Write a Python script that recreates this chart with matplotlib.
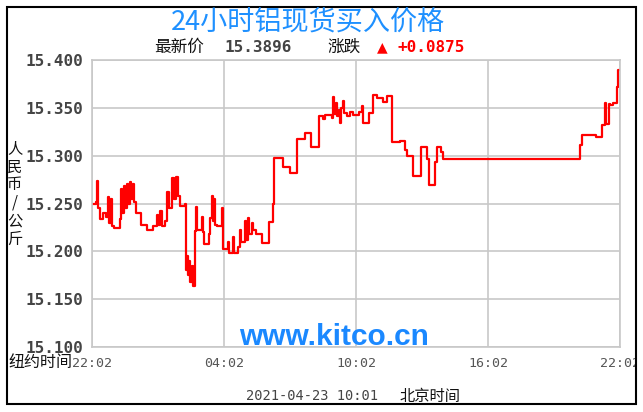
import matplotlib
matplotlib.use('Agg')
import matplotlib.pyplot as plt
from matplotlib.patches import Rectangle

# hours after 22:02 (New York time) and price, stepwise
hours = [0.00, 0.18, 0.23, 0.27, 0.36, 0.50, 0.64, 0.73, 0.77, 0.86, 0.91, 1.00,
         1.27, 1.32, 1.36, 1.45, 1.50, 1.59, 1.64, 1.73, 1.77, 1.86, 1.91, 2.00,
         2.23, 2.50, 2.77, 2.95, 3.00, 3.09, 3.18, 3.32, 3.41, 3.50, 3.64, 3.73,
         3.82, 3.91, 4.00, 4.23, 4.27, 4.32, 4.36, 4.41, 4.45, 4.55, 4.59, 4.68,
         4.73, 4.77, 5.00, 5.05, 5.09, 5.32, 5.36, 5.45, 5.50, 5.55, 5.59, 5.68,
         5.91, 5.95, 6.18, 6.23, 6.41, 6.45, 6.64, 6.73, 6.77, 6.95, 7.00, 7.09,
         7.14, 7.27, 7.32, 7.45, 7.73, 8.05, 8.23, 8.27, 8.68, 9.00, 9.32, 9.68,
         9.95, 10.32, 10.50, 10.59, 10.91, 10.95, 11.00, 11.09, 11.14, 11.23, 11.27,
         11.32, 11.41, 11.45, 11.59, 11.73, 11.86, 12.14, 12.27, 12.32, 12.59,
         12.77, 12.95, 13.23, 13.41, 13.64, 14.00, 14.23, 14.32, 14.59, 14.95,
         15.23, 15.32, 15.59, 15.68, 15.86, 15.95, 22.18, 22.27, 22.91, 23.18,
         23.32, 23.36, 23.50, 23.55, 23.68, 23.86, 23.91, 23.95]
prices = [15.249, 15.252, 15.273, 15.245, 15.234, 15.240, 15.236, 15.257, 15.230, 15.255, 15.226, 15.224,
          15.234, 15.265, 15.240, 15.268, 15.245, 15.270, 15.250, 15.272, 15.255, 15.270, 15.252, 15.240,
          15.228, 15.222, 15.226, 15.238, 15.228, 15.242, 15.226, 15.232, 15.262, 15.245, 15.277, 15.255,
          15.278, 15.258, 15.247, 15.250, 15.180, 15.195, 15.175, 15.190, 15.168, 15.185, 15.164, 15.221,
          15.246, 15.222, 15.236, 15.220, 15.208, 15.218, 15.235, 15.258, 15.232, 15.255, 15.228, 15.226,
          15.245, 15.202, 15.210, 15.198, 15.215, 15.198, 15.205, 15.222, 15.210, 15.232, 15.212, 15.235,
          15.218, 15.230, 15.222, 15.218, 15.209, 15.231, 15.250, 15.298, 15.288, 15.282, 15.317, 15.324,
          15.309, 15.341, 15.338, 15.343, 15.339, 15.361, 15.344, 15.355, 15.341, 15.348, 15.334,
          15.350, 15.357, 15.345, 15.341, 15.346, 15.343, 15.346, 15.352, 15.334, 15.345,
          15.363, 15.360, 15.356, 15.362, 15.314, 15.315, 15.306, 15.300, 15.279, 15.309,
          15.296, 15.269, 15.293, 15.309, 15.304, 15.296, 15.311, 15.322, 15.319, 15.332,
          15.355, 15.333, 15.354, 15.353, 15.355, 15.372, 15.3896, 15.3896]

x_ticks = [0, 6, 12, 18, 24]
x_labels = ['22:02', '04:02', '10:02', '16:02', '22:02']
y_ticks = [15.100, 15.150, 15.200, 15.250, 15.300, 15.350, 15.400]

W, H = 643, 412
cjk = ['Noto Sans CJK SC', 'DejaVu Sans']
mono = 'DejaVu Sans Mono'

fig = plt.figure(figsize=(W / 100, H / 100), dpi=100)
ax = fig.add_axes([92 / W, 1 - 347 / H, (620 - 92) / W, (347 - 60) / H])

ax.step(hours, prices, where='post', color='#ff0000', lw=1.6)

ax.set_xlim(0, 24)
ax.set_ylim(15.100, 15.400)
ax.set_xticks(x_ticks)
ax.set_xticklabels(x_labels, family=mono, fontsize=9.5, color='#555555')
ax.set_yticks(y_ticks)
ax.set_yticklabels([f'{v:.3f}' for v in y_ticks], family=mono, fontsize=11.5,
                   fontweight='bold', color='#444444')
ax.tick_params(length=0, pad=6)
ax.tick_params(axis='x', pad=7)
ax.grid(True, color='#c8c8c8', lw=1.2)
ax.set_axisbelow(True)
for s in ax.spines.values():
    s.set_color('#c8c8c8')
    s.set_linewidth(1.2)

# watermark, its bottom cut by the plot edge
ax.text(0.459, 0.006, 'www.kitco.cn', transform=ax.transAxes, ha='center', va='baseline',
        family='Liberation Sans', fontweight='bold', fontsize=21.5, color='#1a88ff', clip_on=True)

def px(x, y):
    return x / W, 1 - y / H

fig.text(*px(308, 22), '24小时铝现货买入价格', ha='center', va='center',
         family=cjk, fontsize=19.5, color='#1e90ff')
fig.text(*px(154, 47), '最新价', ha='left', va='center', family=cjk, fontsize=12, color='#111111')
fig.text(*px(224, 47), '15.3896', ha='left', va='center', family=mono, fontsize=11.5,
         fontweight='bold', color='#444444')
fig.text(*px(327, 47), '涨跌', ha='left', va='center', family=cjk, fontsize=12, color='#111111')
fig.text(*px(377, 47), '▲', ha='left', va='center', family='DejaVu Sans', fontsize=10, color='#ff0000')
fig.text(*px(398, 47), '+0.0875', ha='left', va='center', family=mono, fontsize=11.5,
         fontweight='bold', color='#ff0000')

fig.text(*px(15, 194), '人\n民\n币\n/\n公\n斤', ha='center', va='center', family=cjk,
         fontsize=11, linespacing=1.08, color='#111111')
fig.text(*px(8, 363), '纽约时间', ha='left', va='center', family=cjk, fontsize=11.5, color='#111111')
fig.text(*px(246, 396), '2021-04-23 10:01', ha='left', va='center', family=mono,
         fontsize=9.9, color='#444444')
fig.text(*px(400, 396), '北京时间', ha='left', va='center', family=cjk, fontsize=11, color='#111111')

# outer frame
frame = Rectangle(px(7, 404), (636 - 7) / W, (404 - 7) / H, transform=fig.transFigure,
                  fill=False, edgecolor='black', lw=1.5)
fig.patches.append(frame)
# last time label is cut by the frame in the original
ax.get_xticklabels()[-1].set_clip_path(frame)

fig.savefig('out.png', dpi=100)
